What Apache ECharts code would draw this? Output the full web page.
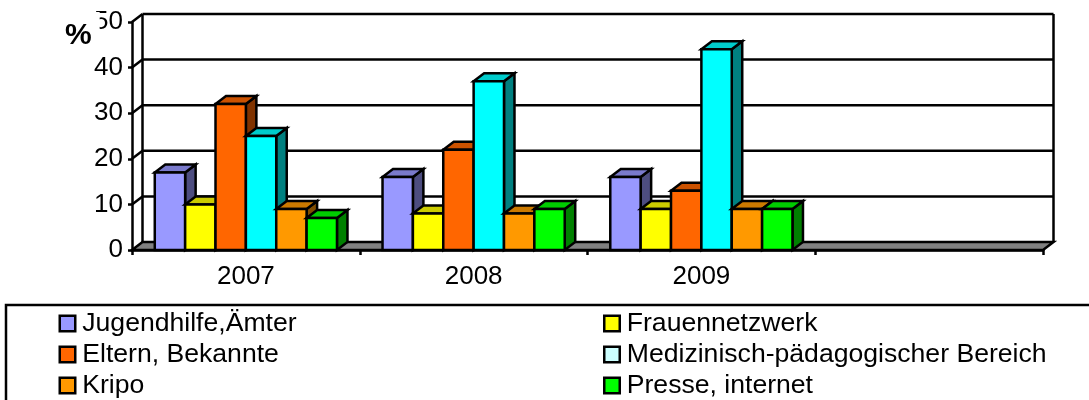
<!DOCTYPE html>
<html>
<head>
<meta charset="utf-8">
<title>Chart</title>
<script src="https://cdn.jsdelivr.net/npm/echarts@6/dist/echarts.min.js"></script>
<style>
  html, body { margin: 0; padding: 0; background: #fff; overflow: hidden; }
  #chart { width: 1089px; height: 400px; }
</style>
</head>
<body>
<div id="chart"></div>
<script>
// data
const categories = ['2007', '2008', '2009', ''];
const seriesNames = ['Jugendhilfe,Ämter', 'Frauennetzwerk', 'Eltern, Bekannte',
  'Medizinisch-pädagogischer Bereich', 'Kripo', 'Presse, internet'];
const jugendhilfe = [17, 16, 16];
const frauennetzwerk = [10, 8, 9];
const eltern = [32, 22, 13];
const medizinisch = [25, 37, 44];
const kripo = [9, 8, 9];
const presse = [7, 9, 9];
const yTicks = [0, 10, 20, 30, 40, 50];

// front, top and side face colours per series
const frontColors = ['#9999ff', '#ffff00', '#ff6600', '#00ffff', '#ff9900', '#00ff00'];
const topColors = ['#7a7acc', '#cccc00', '#cc5200', '#00cccc', '#cc7a00', '#00cc00'];
const sideColors = ['#4d4d80', '#808000', '#803300', '#008080', '#804d00', '#008000'];
const legendColors = ['#9999ff', '#ffff00', '#ff6600', '#ccffff', '#ff9900', '#00ff00'];

const allValues = [jugendhilfe, frauennetzwerk, eltern, medizinisch, kripo, presse];

// 3D look of the old spreadsheet chart: how far the back wall sits from the front
const DEPTH_X = 10.5;
const DEPTH_Y = -8;
const LW = 2.5;
const FONT = '"Liberation Sans", Arial, sans-serif';
const LINE = { stroke: '#000', lineWidth: LW, lineJoin: 'miter' };

function renderWall(params, api) {
  const v = api.value(1);
  const cs = params.coordSys;
  const y = api.coord([0, v])[1];
  const x0 = cs.x, x1 = cs.x + cs.width;
  const bx0 = x0 + DEPTH_X, bx1 = x1 + DEPTH_X, by = y + DEPTH_Y;
  const children = [];
  if (v === 0) {
    // floor
    children.push({
      type: 'polygon',
      shape: { points: [[x0, y], [bx0, by], [bx1, by], [x1, y]] },
      style: { fill: '#808080', stroke: '#000', lineWidth: LW }
    });
  } else {
    children.push({ type: 'line', shape: { x1: bx0, y1: by, x2: bx1, y2: by }, style: LINE });
    children.push({ type: 'line', shape: { x1: x0, y1: y, x2: bx0, y2: by }, style: LINE });
  }
  if (v === yTicks[yTicks.length - 1]) {
    const bottom = cs.y + cs.height + DEPTH_Y;
    children.push({ type: 'line', shape: { x1: bx0, y1: by, x2: bx0, y2: bottom }, style: LINE });
    children.push({ type: 'line', shape: { x1: bx1, y1: by, x2: bx1, y2: bottom }, style: LINE });
  }
  return { type: 'group', children: children };
}

function makeBarRenderer(idx) {
  return function (params, api) {
    const band = api.size([1, 0])[0];
    const barW = band / 7.5;
    const center = api.coord([api.value(0), 0])[0];
    const x0 = center + (idx - 3) * barW;
    const x1 = x0 + barW;
    const yTop = api.coord([api.value(0), api.value(1)])[1];
    const yBase = api.coord([api.value(0), 0])[1];
    return {
      type: 'group',
      children: [
        {
          type: 'polygon',
          shape: { points: [[x1, yTop], [x1 + DEPTH_X, yTop + DEPTH_Y], [x1 + DEPTH_X, yBase + DEPTH_Y], [x1, yBase]] },
          style: { fill: sideColors[idx], stroke: '#000', lineWidth: LW }
        },
        {
          type: 'polygon',
          shape: { points: [[x0, yTop], [x0 + DEPTH_X, yTop + DEPTH_Y], [x1 + DEPTH_X, yTop + DEPTH_Y], [x1, yTop]] },
          style: { fill: topColors[idx], stroke: '#000', lineWidth: LW }
        },
        {
          type: 'rect',
          shape: { x: x0, y: yTop, width: barW, height: yBase - yTop },
          style: { fill: frontColors[idx], stroke: '#000', lineWidth: LW }
        }
      ]
    };
  };
}

const barSeries = seriesNames.map(function (name, idx) {
  return {
    name: name,
    type: 'custom',
    renderItem: makeBarRenderer(idx),
    encode: { x: 0, y: 1 },
    itemStyle: { color: frontColors[idx] },
    z: 3 + idx,
    data: allValues[idx].map(function (v, i) { return [i, v]; })
  };
});

function legendFor(names, left) {
  return {
    left: left,
    top: 310,
    height: 120,
    orient: 'vertical',
    padding: 0,
    itemWidth: 15.5,
    itemHeight: 15.5,
    itemGap: 4,
    icon: 'rect',
    selectedMode: false,
    itemStyle: { borderColor: '#000', borderWidth: LW },
    textStyle: { color: '#000', fontFamily: FONT, fontSize: 26.6, lineHeight: 26, padding: [1, 0, 0, 2] },
    data: names.map(function (n) {
      return { name: n, itemStyle: { color: legendColors[seriesNames.indexOf(n)] } };
    })
  };
}

const chart = echarts.init(document.getElementById('chart'), null, { renderer: 'canvas' });

chart.setOption({
  animation: false,
  backgroundColor: '#fff',
  title: {
    text: '%',
    left: 57,
    top: 12,
    padding: [9, 8, 3, 8],
    backgroundColor: '#fff',
    z: 20,
    textStyle: { color: '#000', fontFamily: FONT, fontSize: 30, fontWeight: 'bold', lineHeight: 30 }
  },
  legend: [
    legendFor([seriesNames[0], seriesNames[2], seriesNames[4]], 58.5),
    legendFor([seriesNames[1], seriesNames[3], seriesNames[5]], 603)
  ],
  grid: { left: 132, right: 46, top: 22, bottom: 150 },
  xAxis: {
    type: 'category',
    data: categories,
    axisLine: { lineStyle: { color: '#000', width: LW } },
    axisTick: { show: true, alignWithLabel: false, length: 5, lineStyle: { color: '#000', width: LW } },
    axisLabel: { color: '#000', fontFamily: FONT, fontSize: 26, margin: 14, interval: 0 },
    splitLine: { show: false }
  },
  yAxis: {
    type: 'value',
    min: 0,
    max: 50,
    interval: 10,
    axisLine: { show: true, lineStyle: { color: '#000', width: LW } },
    axisTick: { show: true, length: 4, lineStyle: { color: '#000', width: LW } },
    axisLabel: { color: '#000', fontFamily: FONT, fontSize: 26, margin: 9 },
    splitLine: { show: false }
  },
  graphic: [{
    type: 'rect',
    silent: true,
    z: -1,
    shape: { x: 6, y: 305, width: 1200, height: 200 },
    style: { fill: 'none', stroke: '#000', lineWidth: LW }
  }],
  series: [{
    type: 'custom',
    name: 'walls',
    renderItem: renderWall,
    encode: { x: 0, y: 1 },
    z: 1,
    data: yTicks.map(function (v) { return [0, v]; })
  }].concat(barSeries)
});
</script>
</body>
</html>
